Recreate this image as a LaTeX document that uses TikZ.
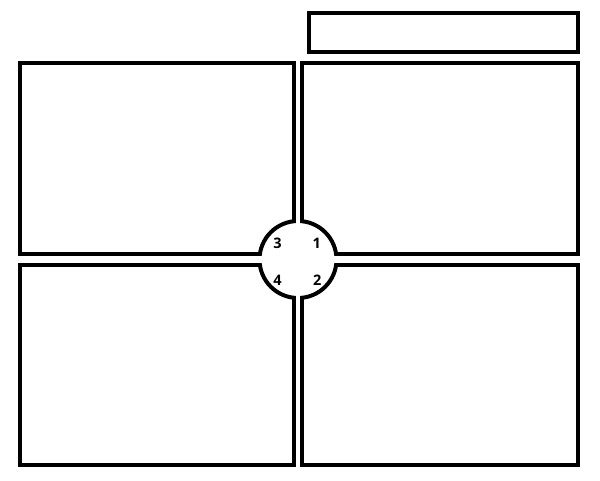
\documentclass[tikz,border=0pt]{standalone}
\usepackage{fontspec}
\newfontfamily\labfont{Open Sans}
\begin{document}
\begin{tikzpicture}[x=1pt,y=-1pt,
  panel/.style={draw=black,line width=4pt,inner sep=0pt,outer sep=0pt,fill=none},
  numlabel/.style={font=\labfont\bfseries\fontsize{14.5}{16}\selectfont,inner sep=0pt}]
\useasboundingbox (0,0) rectangle (600,480);
\fill[white] (0,0) rectangle (600,480);
% title box
\node[panel,minimum width=268.5pt,minimum height=39pt] (title) at (443.25,32.5) {};
% four panels
\node[panel,minimum width=274.2pt,minimum height=190.7pt] (tl) at (156.6,158.35) {};
\node[panel,minimum width=275.5pt,minimum height=190.7pt] (tr) at (439.75,158.35) {};
\node[panel,minimum width=274.2pt,minimum height=199.7pt] (bl) at (156.6,364.85) {};
\node[panel,minimum width=275.5pt,minimum height=199.7pt] (br) at (439.75,364.85) {};
% central dial
\coordinate (c) at (298,259.5);
\fill[white] (c) circle (39);
\draw[line width=4pt] (c) circle (38.5);
\fill[white] (295.8,214) rectangle (299.9,306);
\fill[white] (250,255.8) rectangle (346,263.3);
\node[numlabel] (n3) at (277.5,243.5) {3};
\node[numlabel] (n1) at (316.8,243.5) {1};
\node[numlabel] (n4) at (277.5,280.5) {4};
\node[numlabel] (n2) at (317.3,280.5) {2};
\end{tikzpicture}
\end{document}
